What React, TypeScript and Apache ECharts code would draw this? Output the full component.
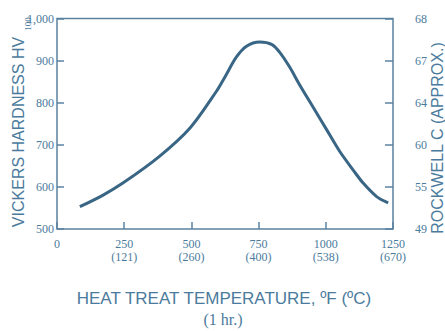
import React, { useEffect, useRef } from "react";
import * as echarts from "echarts";

// Heat treat temperature (°F) and Vickers hardness (HV100)
const tempF = [85, 170, 245, 380, 495, 592, 629, 667, 705, 754, 800, 828, 866, 903, 953, 1003, 1052, 1102, 1139, 1189, 1232];
const hardness = [553, 580, 609, 672, 740, 826, 866, 908, 934, 944, 938, 920, 884, 842, 789, 736, 684, 640, 609, 577, 562];

const xTicks = [0, 250, 500, 750, 1000, 1250];
const celsius = ["", "121", "260", "400", "538", "670"];
const hvTicks = [500, 600, 700, 800, 900, 1000];
const rockwell = ["49", "55", "60", "64", "67", "68"];

const TEXT = "#4b7b9c";
const AXIS = "#5a82a0";
const LINE = "#3a6685";

export default function App() {
  const ref = useRef<HTMLDivElement>(null);
  useEffect(() => {
    if (!ref.current) return;
    const chart = echarts.init(ref.current, null, { renderer: "svg" });
    const tickFont = { fontFamily: "Liberation Serif", fontSize: 12, color: TEXT };
    chart.setOption({
      animation: false,
      grid: {
        left: 57,
        right: 52,
        top: 18.5,
        bottom: 102,
        show: true,
        borderColor: AXIS,
        borderWidth: 1.5,
        backgroundColor: "transparent",
      },
      xAxis: {
        type: "value",
        min: 0,
        max: 1250,
        interval: 250,
        axisLine: { show: false },
        splitLine: { show: false },
        axisTick: { show: true, inside: true, length: 7, lineStyle: { color: AXIS, width: 1.5 } },
        axisLabel: {
          ...tickFont,
          margin: 8,
          lineHeight: 13,
          formatter: (v: number) => {
            const i = xTicks.indexOf(v);
            return i <= 0 ? String(v) : `${v}\n(${celsius[i]})`;
          },
        },
      },
      yAxis: [
        {
          type: "value",
          min: 500,
          max: 1000,
          interval: 100,
          position: "left",
          axisLine: { show: false },
          splitLine: { show: false },
          axisTick: { show: true, inside: true, length: 7, lineStyle: { color: AXIS, width: 1.5 } },
          axisLabel: { ...tickFont, margin: 3 },
        },
        {
          type: "value",
          min: 500,
          max: 1000,
          interval: 100,
          position: "right",
          axisLine: { show: false },
          splitLine: { show: false },
          axisTick: { show: true, inside: true, length: 8, lineStyle: { color: AXIS, width: 1.5 } },
          axisLabel: {
            ...tickFont,
            margin: 22,
            formatter: (v: number) => rockwell[hvTicks.indexOf(v)] ?? "",
          },
        },
      ],
      series: [
        {
          type: "line",
          data: tempF.map((t, i) => [t, hardness[i]]),
          smooth: 0.3,
          showSymbol: false,
          lineStyle: { color: LINE, width: 3 },
        },
      ],
      graphic: [
        {
          type: "text",
          x: 18,
          y: 132,
          rotation: Math.PI / 2,
          style: {
            text: "VICKERS HARDNESS HV",
            fontFamily: "Liberation Sans",
            fontSize: 16,
            fill: TEXT,
            align: "center",
            verticalAlign: "middle",
          },
        },
        {
          type: "text",
          x: 28,
          y: 24,
          rotation: Math.PI / 2,
          style: {
            text: "100",
            fontFamily: "Liberation Serif",
            fontSize: 9,
            fill: TEXT,
            align: "center",
            verticalAlign: "middle",
          },
        },
        {
          type: "text",
          x: 437,
          y: 138,
          rotation: Math.PI / 2,
          style: {
            text: "ROCKWELL C (APPROX.)",
            fontFamily: "Liberation Sans",
            fontSize: 16,
            fill: TEXT,
            align: "center",
            verticalAlign: "middle",
          },
        },
        {
          type: "text",
          x: 224,
          y: 298,
          style: {
            text: "HEAT TREAT TEMPERATURE, ºF (ºC)",
            fontFamily: "Liberation Sans",
            fontSize: 17,
            fill: TEXT,
            align: "center",
            verticalAlign: "middle",
          },
        },
        {
          type: "text",
          x: 223,
          y: 319,
          style: {
            text: "(1 hr.)",
            fontFamily: "Liberation Serif",
            fontSize: 16,
            fill: TEXT,
            align: "center",
            verticalAlign: "middle",
          },
        },
      ],
    });
    return () => chart.dispose();
  }, []);
  return <div ref={ref} style={{ width: 445, height: 331, position: "absolute", left: 0, top: 0, background: "#fff" }} />;
}
